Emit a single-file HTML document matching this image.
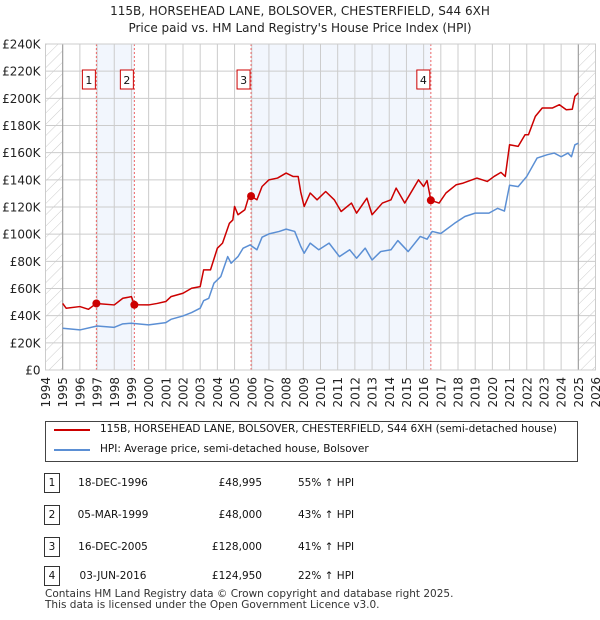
<!DOCTYPE html>
<html><head><meta charset="utf-8">
<style>
body{margin:0;background:#fff;font-family:"DejaVu Sans","Liberation Sans",sans-serif;}
#wrap{position:relative;width:600px;height:620px;overflow:hidden;}
</style></head>
<body><div id="wrap">
<svg id="chart" width="600" height="620" style="position:absolute;left:0;top:0;font-family:'DejaVu Sans','Liberation Sans',sans-serif">
<defs><pattern id="hatch" width="8" height="8" patternUnits="userSpaceOnUse" patternTransform="rotate(45)"><line x1="0" y1="0" x2="0" y2="8" stroke="#ccc" stroke-width="1"/></pattern></defs>
<text x="300" y="15" text-anchor="middle" font-size="12" fill="#222">115B, HORSEHEAD LANE, BOLSOVER, CHESTERFIELD, S44 6XH</text>
<text x="300" y="32" text-anchor="middle" font-size="12" fill="#222">Price paid vs. HM Land Registry's House Price Index (HPI)</text>
<g id="plot"></g>
</svg>
<div style="position:absolute;left:45px;top:421px;width:531px;height:39px;border:1px solid #444;font-size:10.5px;color:#111">
<div style="position:absolute;left:8px;top:7px;width:36px;height:2px;background:#cc0000"></div>
<div style="position:absolute;left:54px;top:1px">115B, HORSEHEAD LANE, BOLSOVER, CHESTERFIELD, S44 6XH (semi-detached house)</div>
<div style="position:absolute;left:8px;top:27px;width:36px;height:2px;background:#5b8fd4"></div>
<div style="position:absolute;left:54px;top:21px">HPI: Average price, semi-detached house, Bolsover</div>
</div>
<div id="table" style="font-size:10.5px;color:#111"></div>
<div style="position:absolute;left:45px;top:589px;font-size:10.5px;color:#333;line-height:11px">Contains HM Land Registry data © Crown copyright and database right 2025.<br>This data is licensed under the Open Government Licence v3.0.</div>
</div>
<script>
const yTicks=[0,20,40,60,80,100,120,140,160,180,200,220,240];
const xYears=[1994,1995,1996,1997,1998,1999,2000,2001,2002,2003,2004,2005,2006,2007,2008,2009,2010,2011,2012,2013,2014,2015,2016,2017,2018,2019,2020,2021,2022,2023,2024,2025,2026];
const hpiT=[1995,1996,1997,1998,1998.5,1999,2000,2001,2001.3,2002,2002.5,2003,2003.2,2003.5,2003.8,2004.2,2004.6,2004.8,2005.2,2005.5,2005.9,2006.3,2006.6,2007,2007.6,2008,2008.5,2008.85,2009.05,2009.4,2009.9,2010.5,2011.1,2011.7,2012.1,2012.6,2013.0,2013.5,2014.1,2014.5,2015.1,2015.8,2016.2,2016.5,2017.0,2017.8,2018.4,2019.0,2019.8,2020.3,2020.7,2021.0,2021.5,2022.0,2022.6,2023.2,2023.6,2024.0,2024.4,2024.6,2024.8,2025.0];
const hpiV=[30.7,29.5,32.4,31.4,34,34.4,33.2,34.9,37.3,39.8,42.3,45.5,51,52.8,63.9,68.8,83.5,78.6,83.5,89.7,92.1,88.5,97.8,100.2,102,103.7,102,91,86,93.4,88.5,93.4,83.5,88.5,82.3,89.7,81,87.2,88.5,95.3,87.2,98.3,96.3,102,100.5,108,113,115.5,115.5,119,117,136,135,142.5,156,158.5,159.7,157,159.7,157,165.8,167];
const redT=[1995,1995.2,1996,1996.5,1996.96,1998,1998.5,1999,1999.17,2000,2000.5,2001,2001.3,2002,2002.5,2003,2003.2,2003.6,2004,2004.3,2004.7,2004.9,2005.0,2005.2,2005.6,2005.8,2005.96,2006.3,2006.6,2007,2007.5,2008,2008.4,2008.7,2008.85,2009.05,2009.4,2009.8,2010.3,2010.8,2011.2,2011.8,2012.1,2012.7,2013.0,2013.6,2014.1,2014.4,2014.9,2015.7,2016.0,2016.2,2016.42,2016.9,2017.3,2017.9,2018.3,2019.1,2019.7,2020.1,2020.5,2020.75,2021.0,2021.5,2021.9,2022.1,2022.5,2022.9,2023.5,2023.9,2024.3,2024.65,2024.8,2025.0];
const redV=[49,45.5,46.7,44.7,49,47.9,52.8,54,48,47.9,49,50.4,54,56.5,60.2,61.4,73.7,73.7,89.7,93.4,108,110.5,120.4,114.3,118,126.5,128,125.3,135.1,140,141.3,145,142.5,142.5,131,120.4,130.3,125.3,131.4,125.3,116.7,122.9,115.5,126.5,114.3,122.9,125.3,133.9,122.9,140,135.1,139.5,124.95,122.9,130.3,136.4,137.6,141.3,138.8,142.5,145.5,142.5,165.8,164.6,173.2,173.2,186.7,192.9,192.9,195.3,191.6,192,201.5,204];
const saleT=[1996.96,1999.17,2005.96,2016.42];
const saleV=[48.995,48,128,124.95];
const saleLabels=["1","2","3","4"];
const saleDates=["18-DEC-1996","05-MAR-1999","16-DEC-2005","03-JUN-2016"];
const salePrices=["£48,995","£48,000","£128,000","£124,950"];
const saleHpi=["55% ↑ HPI","43% ↑ HPI","41% ↑ HPI","22% ↑ HPI"];
const L=45.5,R=595.5,T=44,B=370;
const X=t=>L+(t-1994)*(R-L)/32, Y=v=>B-v*(B-T)/240;
const NS="http://www.w3.org/2000/svg", g=document.getElementById('plot');
function mk(tag,a){const e=document.createElementNS(NS,tag);for(const k in a)e.setAttribute(k,a[k]);g.appendChild(e);return e;}
let e;
e=mk('rect',{x:L,y:T,width:X(1995)-L,height:B-T,fill:'url(#hatch)'});


e=mk('rect',{x:X(2025),y:T,width:R-X(2025),height:B-T,fill:'url(#hatch)'});


[[0,1],[2,3]].forEach((p,i)=>{e=mk('rect',{x:X(saleT[p[0]]),y:T,width:X(saleT[p[1]])-X(saleT[p[0]]),height:B-T,fill:'#eef3fc',opacity:0.75});

});
yTicks.forEach(v=>{e=mk('line',{x1:L,x2:R,y1:Y(v),y2:Y(v),stroke:'#ccc'});


e=mk('text',{x:L-5,y:Y(v)+4.5,'text-anchor':'end','font-size':12,fill:'#222'});e.textContent='£'+(v?v+'K':'0');

});
xYears.forEach(y=>{e=mk('line',{x1:X(y),x2:X(y),y1:T,y2:B,stroke:'#ccc'});


e=mk('text',{x:0,y:0,'text-anchor':'end','font-size':12,fill:'#222',transform:`translate(${X(y)+4.5},${B+7}) rotate(-90)`});e.textContent=y;

});
[1995,2025].forEach(y=>{e=mk('line',{x1:X(y),x2:X(y),y1:T,y2:B,stroke:'#999'});

});
saleT.forEach((t,i)=>{e=mk('line',{x1:X(t),x2:X(t),y1:T,y2:B,stroke:'#e66','stroke-dasharray':'2,2'});


e=mk('rect',{x:X(t)-14,y:70,width:13,height:19,fill:'#fff',stroke:'#c00'});


e=mk('text',{x:X(t)-7.5,y:84,'text-anchor':'middle','font-size':11,fill:'#111'});e.textContent=saleLabels[i];

});
function line(ts,vs,c,n){e=mk('polyline',{points:ts.map((t,i)=>X(t)+','+Y(vs[i])).join(' '),fill:'none',stroke:c,'stroke-width':1.5,'stroke-linejoin':'round'});

}
line(hpiT,hpiV,'#5b8fd4','hpi-line');
line(redT,redV,'#cc0000','price-paid-line');
saleT.forEach((t,i)=>{e=mk('circle',{cx:X(t),cy:Y(saleV[i]),r:4,fill:'#cc0000'});

});
e=mk('rect',{x:L,y:T,width:R-L,height:B-T,fill:'none',stroke:'#ccc'});


const tb=document.getElementById('table');const rowsY=[473,505,537,566];
saleLabels.forEach((s,i)=>{const r=document.createElement('div');


r.style.cssText=`position:absolute;left:0;top:${rowsY[i]}px;width:600px;height:20px`;
r.innerHTML=`<div style="position:absolute;left:44px;top:0;width:14px;height:18px;border:1px solid #333;text-align:center;line-height:18px">${s}</div>
<div style="position:absolute;left:68px;width:90px;text-align:center;top:4px">${saleDates[i]}</div>
<div style="position:absolute;left:172px;width:90px;text-align:right;top:4px">${salePrices[i]}</div>
<div style="position:absolute;left:298px;top:4px">${saleHpi[i]}</div>`;
tb.appendChild(r);});
</script>
</body></html>
